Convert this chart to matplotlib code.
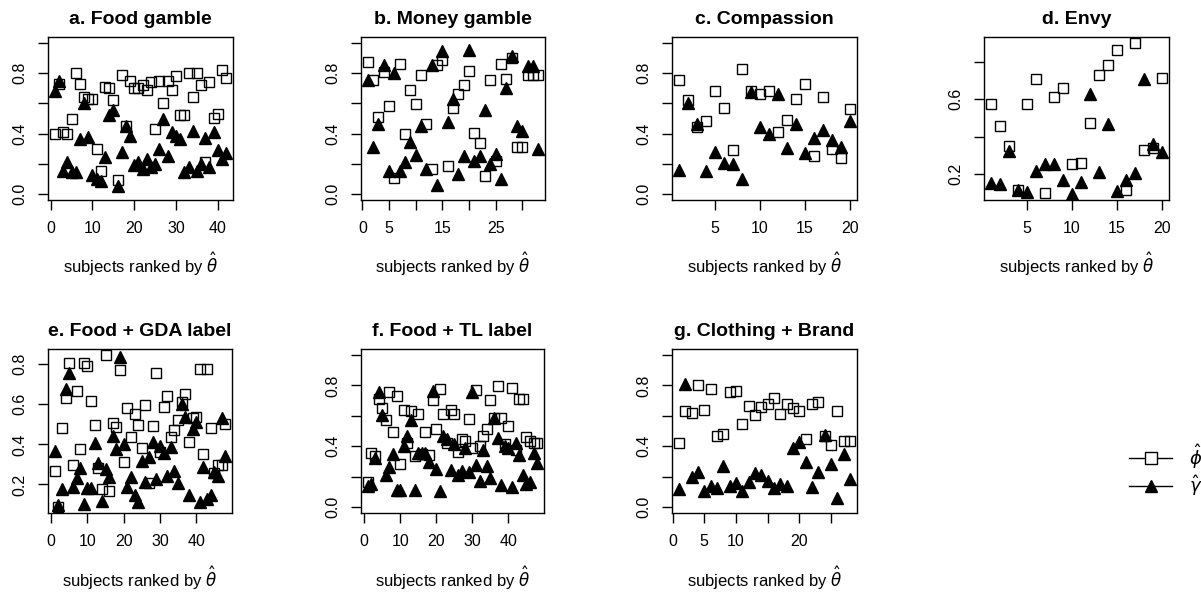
import matplotlib
matplotlib.use("Agg")
import matplotlib.pyplot as plt
from matplotlib.lines import Line2D

plt.rcParams['font.family'] = ['Liberation Sans', 'DejaVu Sans']
plt.rcParams['mathtext.fontset'] = 'dejavusans'

# a. Food gamble
phi_a = [0.40, 0.73, 0.41, 0.40, 0.50, 0.80, 0.73, 0.64, 0.63, 0.63, 0.30, 0.15, 0.71, 0.70,
         0.62, 0.094, 0.785, 0.45, 0.75, 0.70, 0.70, 0.72, 0.69, 0.74, 0.43, 0.75, 0.60, 0.75,
         0.69, 0.78, 0.52, 0.52, 0.80, 0.64, 0.80, 0.725, 0.21, 0.74, 0.505, 0.53, 0.82, 0.77]
gam_a = [0.68, 0.747, 0.154, 0.21, 0.143, 0.147, 0.363, 0.60, 0.378, 0.127, 0.099, 0.084,
         0.246, 0.52, 0.554, 0.055, 0.28, 0.45, 0.385, 0.19, 0.21, 0.165, 0.23, 0.176, 0.20,
         0.30, 0.50, 0.253, 0.41, 0.385, 0.363, 0.147, 0.176, 0.418, 0.154, 0.198, 0.374,
         0.176, 0.41, 0.29, 0.23, 0.27]

# b. Money gamble
phi_b = [0.873, 0.754, 0.512, 0.807, 0.582, 0.105, 0.859, 0.40, 0.692, 0.593, 0.79, 0.464,
         0.165, 0.857, 0.89, 0.182, 0.571, 0.66, 0.725, 0.813, 0.402, 0.34, 0.121, 0.754,
         0.22, 0.862, 0.765, 0.90, 0.314, 0.314, 0.785, 0.785, 0.787]
gam_b = [0.754, 0.314, 0.466, 0.857, 0.154, 0.80, 0.149, 0.215, 0.347, 0.259, 0.45, 0.165,
         0.857, 0.062, 0.945, 0.479, 0.626, 0.132, 0.253, 0.952, 0.22, 0.253, 0.556, 0.198,
         0.268, 0.099, 0.70, 0.912, 0.45, 0.418, 0.846, 0.846, 0.297]

# c. Compassion
phi_c = [0.758, 0.622, 0.446, 0.484, 0.681, 0.571, 0.29, 0.831, 0.681, 0.66, 0.681, 0.413,
         0.49, 0.626, 0.73, 0.253, 0.64, 0.297, 0.235, 0.565]
gam_c = [0.158, 0.604, 0.466, 0.154, 0.281, 0.202, 0.198, 0.099, 0.677, 0.446, 0.396, 0.664,
         0.303, 0.466, 0.27, 0.369, 0.424, 0.358, 0.308, 0.484]

# d. Envy
phi_d = [0.576, 0.456, 0.35, 0.117, 0.574, 0.706, 0.098, 0.611, 0.659, 0.253, 0.262, 0.474,
         0.729, 0.782, 0.862, 0.115, 0.90, 0.327, 0.339, 0.715]
gam_d = [0.152, 0.145, 0.324, 0.117, 0.106, 0.218, 0.253, 0.253, 0.168, 0.094, 0.156, 0.629,
         0.209, 0.465, 0.112, 0.17, 0.204, 0.708, 0.359, 0.318]

# e. Food + GDA label
phi_e = [0.268, 0.088, 0.481, 0.631, 0.803, 0.297, 0.668, 0.375, 0.806, 0.793, 0.614, 0.494,
         0.28, 0.175, 0.845, 0.168, 0.506, 0.484, 0.773, 0.314, 0.581, 0.436, 0.553, 0.497,
         0.38, 0.598, 0.205, 0.492, 0.756, 0.36, 0.586, 0.643, 0.436, 0.472, 0.522, 0.609,
         0.653, 0.414, 0.531, 0.536, 0.778, 0.352, 0.778, 0.481, 0.258, 0.297, 0.297, 0.502]
gam_e = [0.369, 0.10, 0.175, 0.676, 0.756, 0.185, 0.23, 0.28, 0.105, 0.18, 0.18, 0.405,
         0.305, 0.118, 0.275, 0.238, 0.442, 0.377, 0.837, 0.402, 0.188, 0.238, 0.147, 0.113,
         0.319, 0.213, 0.339, 0.414, 0.225, 0.392, 0.355, 0.242, 0.385, 0.267, 0.208, 0.603,
         0.536, 0.147, 0.476, 0.509, 0.113, 0.285, 0.13, 0.147, 0.263, 0.243, 0.531, 0.342]

# f. Food + TL label
phi_f = [0.167, 0.354, 0.333, 0.711, 0.652, 0.572, 0.754, 0.496, 0.733, 0.283, 0.641, 0.424,
         0.63, 0.337, 0.609, 0.348, 0.493, 0.341, 0.707, 0.511, 0.776, 0.615, 0.424, 0.637,
         0.609, 0.363, 0.446, 0.435, 0.576, 0.391, 0.767, 0.402, 0.467, 0.511, 0.702, 0.587,
         0.798, 0.587, 0.413, 0.533, 0.783, 0.376, 0.711, 0.711, 0.463, 0.435, 0.424, 0.424]
gam_f = [0.141, 0.152, 0.32, 0.754, 0.604, 0.207, 0.261, 0.348, 0.109, 0.109, 0.398, 0.467,
         0.572, 0.109, 0.354, 0.354, 0.354, 0.298, 0.765, 0.25, 0.102, 0.467, 0.446, 0.246,
         0.417, 0.213, 0.239, 0.385, 0.228, 0.754, 0.276, 0.174, 0.376, 0.272, 0.191, 0.587,
         0.457, 0.146, 0.402, 0.387, 0.13, 0.42, 0.341, 0.207, 0.152, 0.163, 0.354, 0.287]

# g. Clothing + Brand
phi_g = [0.42, 0.63, 0.62, 0.804, 0.641, 0.776, 0.467, 0.478, 0.754, 0.761, 0.543, 0.667,
         0.604, 0.659, 0.68, 0.717, 0.613, 0.68, 0.652, 0.63, 0.45, 0.68, 0.691, 0.467,
         0.409, 0.635, 0.435, 0.435]
gam_g = [0.115, 0.811, 0.196, 0.233, 0.104, 0.137, 0.126, 0.272, 0.141, 0.157, 0.104, 0.163,
         0.224, 0.207, 0.174, 0.124, 0.148, 0.137, 0.391, 0.43, 0.293, 0.13, 0.233, 0.472,
         0.283, 0.059, 0.348, 0.185]

W, H = 1201, 599
fig = plt.figure(figsize=(W / 100, H / 100), dpi=100)


def panel(box, title, phi, gam, fixed, xt, xl, yt, yl):
    l, t, r, b = box
    ax = fig.add_axes([l / W, 1 - b / H, (r - l) / W, (b - t) / H])
    n = len(phi)
    x = list(range(1, n + 1))
    ax.plot(x, phi, ls='none', marker='s', ms=7, mfc='none', mec='black', mew=1)
    ax.plot(x, gam, ls='none', marker='^', ms=8, color='black')
    ax.set_xlim(1 - 0.04 * (n - 1), n + 0.04 * (n - 1))
    if fixed:
        lo, hi = 0.0, 1.0
    else:
        lo, hi = min(phi + gam), max(phi + gam)
    ax.set_ylim(lo - 0.04 * (hi - lo), hi + 0.04 * (hi - lo))
    ax.set_xticks(xt)
    ax.set_xticklabels(xl)
    ax.set_yticks(yt)
    ax.set_yticklabels(yl, rotation=90, va='center')
    ax.tick_params(direction='out', length=7, width=1, labelsize=11.5, pad=8)
    for s in ax.spines.values():
        s.set_linewidth(1)
    ax.set_title(title, fontsize=14, fontweight='bold', pad=9)
    ax.text(0.5, -0.45, r'subjects ranked by $\hat{\theta}$', transform=ax.transAxes,
            ha='center', va='baseline', fontsize=12)
    return ax


y01 = [0, 0.2, 0.4, 0.6, 0.8, 1.0]
y01l = ['0.0', '', '0.4', '', '0.8', '']
panel((48, 37, 233, 200), 'a. Food gamble', phi_a, gam_a, True,
      [0, 10, 20, 30, 40], ['0', '10', '20', '30', '40'], y01, y01l)
panel((361, 37, 545, 200), 'b. Money gamble', phi_b, gam_b, True,
      [0, 5, 10, 15, 20, 25, 30], ['0', '5', '', '15', '', '25', ''], y01, y01l)
panel((672, 37, 857, 200), 'c. Compassion', phi_c, gam_c, True,
      [5, 10, 15, 20], ['5', '10', '15', '20'], y01, y01l)
panel((984, 37, 1169, 200), 'd. Envy', phi_d, gam_d, False,
      [5, 10, 15, 20], ['5', '10', '15', '20'], [0.2, 0.4, 0.6, 0.8], ['0.2', '', '0.6', ''])
panel((48, 349, 232, 513), 'e. Food + GDA label', phi_e, gam_e, False,
      [0, 10, 20, 30, 40], ['0', '10', '20', '30', '40'],
      [0.2, 0.4, 0.6, 0.8], ['0.2', '0.4', '0.6', '0.8'])
panel((361, 349, 544, 513), 'f. Food + TL label', phi_f, gam_f, True,
      [0, 10, 20, 30, 40], ['0', '10', '20', '30', '40'], y01, y01l)
panel((672, 349, 857, 513), 'g. Clothing + Brand', phi_g, gam_g, True,
      [0, 5, 10, 15, 20, 25], ['0', '5', '10', '', '20', ''], y01, y01l)

handles = [Line2D([], [], color='black', lw=1, marker='s', ms=8, mfc='white', mec='black'),
           Line2D([], [], color='black', lw=1, marker='^', ms=8)]
fig.legend(handles, [r'$\hat{\phi}$', r'$\hat{\gamma}$'], loc='center left',
           bbox_to_anchor=(1120 / W, 1 - 470 / H), frameon=False, fontsize=13,
           handlelength=2.4, handletextpad=0.9, labelspacing=0.15, borderpad=0)

fig.savefig('out.png', dpi=100)
